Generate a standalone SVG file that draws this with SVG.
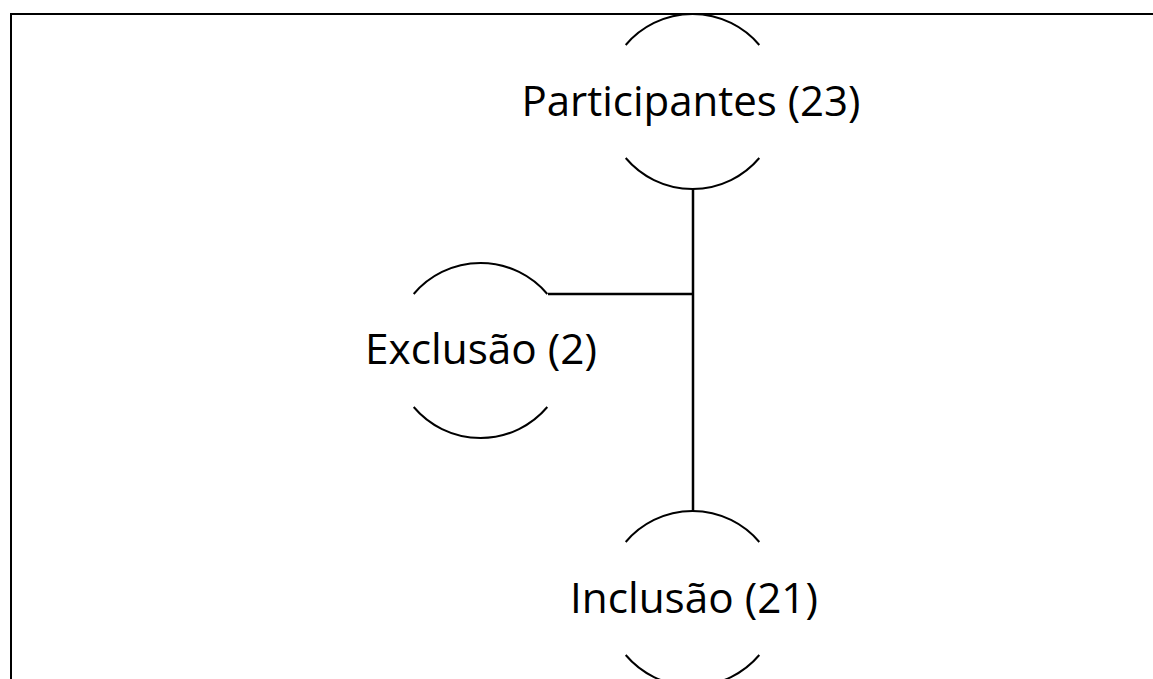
<svg xmlns="http://www.w3.org/2000/svg" width="1153" height="679" viewBox="0 0 1153 679">
<style>
.arc{fill:none;stroke:#000;stroke-width:2}
.con{fill:none;stroke:#000;stroke-width:2.5}
.lbl{font-family:"Open Sans","Noto Sans",sans-serif;font-size:42px;fill:#000;text-anchor:middle}
</style>
<rect x="0" y="0" width="1153" height="679" fill="#fff"/>
<rect x="11" y="14" width="1160" height="700" fill="none" stroke="#000" stroke-width="2"/>
<g id="connectors">
<line class="con" x1="693" y1="189" x2="693" y2="511"/>
<line class="con" x1="548" y1="294" x2="693" y2="294"/>
</g>
<g id="participantes">
<path class="arc" d="M625.7,45 A87.5,87.5 0 0 1 759.3,45"/>
<path class="arc" d="M625.7,158 A87.5,87.5 0 0 0 759.3,158"/>
<text class="lbl" x="691" y="116" textLength="339" lengthAdjust="spacingAndGlyphs">Participantes (23)</text>
</g>
<g id="exclusao">
<path class="arc" d="M413.7,294 A87.5,87.5 0 0 1 547.3,294"/>
<path class="arc" d="M413.7,407 A87.5,87.5 0 0 0 547.3,407"/>
<text class="lbl" x="481" y="364" textLength="232" lengthAdjust="spacingAndGlyphs">Exclusão (2)</text>
</g>
<g id="inclusao">
<path class="arc" d="M625.7,542 A87.5,87.5 0 0 1 759.3,542"/>
<path class="arc" d="M625.7,655 A87.5,87.5 0 0 0 759.3,655"/>
<text class="lbl" x="694" y="613" textLength="248" lengthAdjust="spacingAndGlyphs">Inclusão (21)</text>
</g>
</svg>
